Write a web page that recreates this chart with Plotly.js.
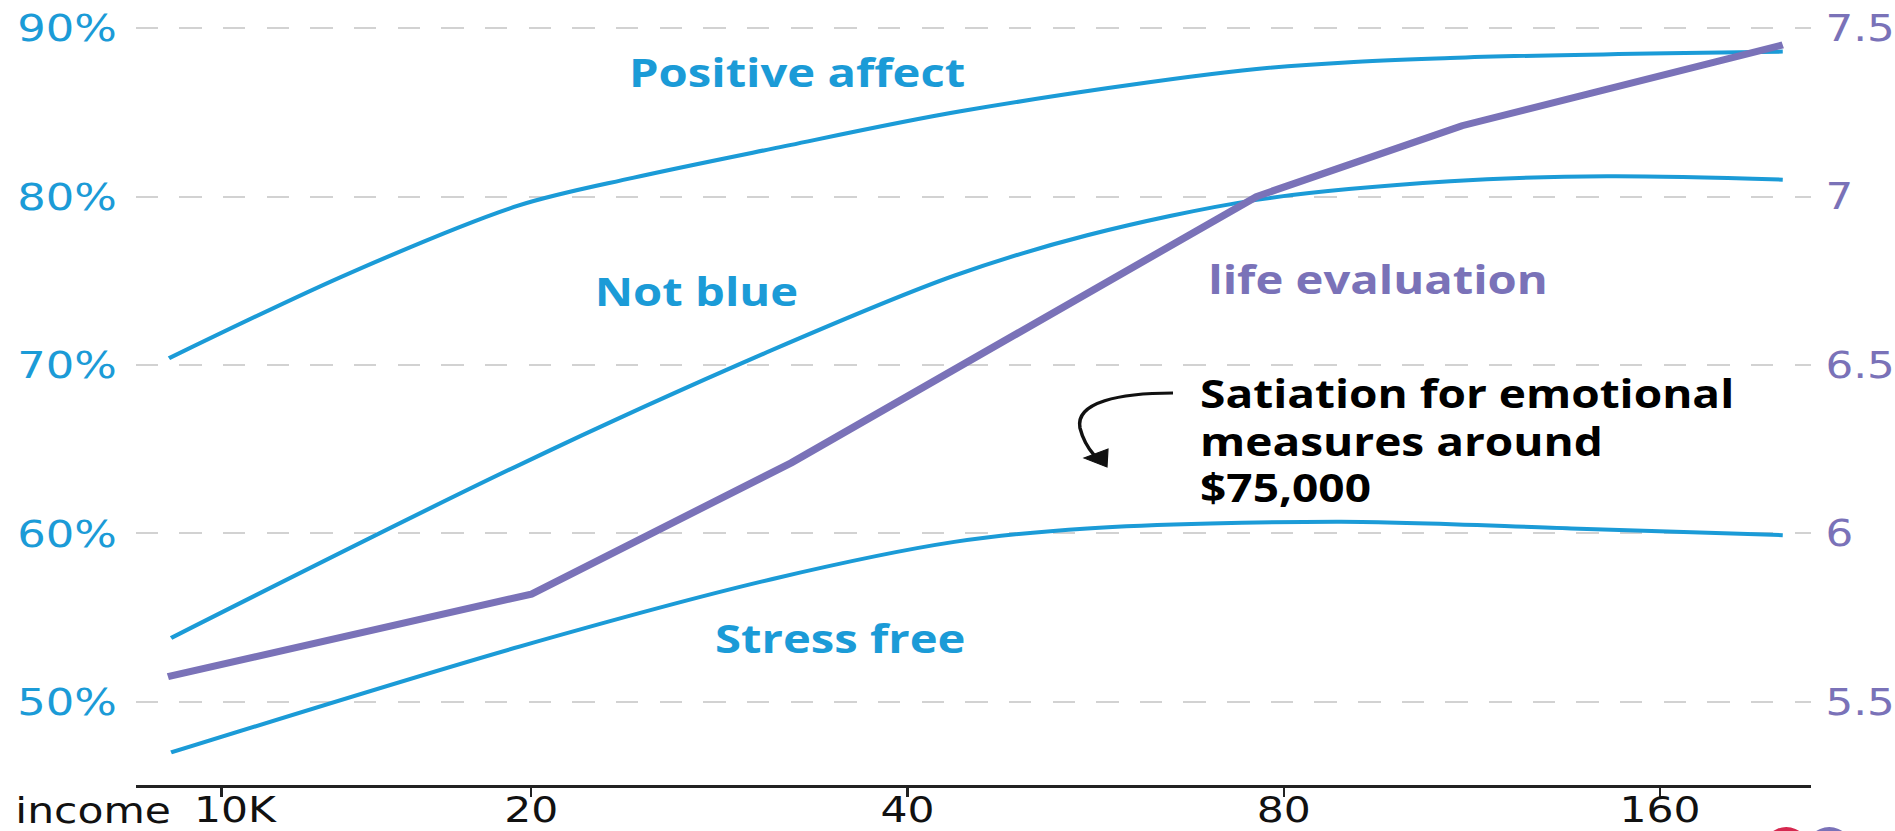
<!DOCTYPE html>
<html><head><meta charset="utf-8">
<script src="https://cdn.plot.ly/plotly-3.0.1.min.js"></script>
<style>
html,body{margin:0;padding:0;background:#fff;overflow:hidden;width:1895px;height:831px}
#wrap{width:1606px;height:831px;transform:scaleX(1.17995);transform-origin:0 0}
</style>
</head><body>
<div id="wrap"><div id="chart" style="width:1606px;height:831px"></div></div>
<script>
// ---- data (income in $ thousands, log scale) ----
const incomePositive = [10.26, 14.31, 19.55, 24.16, 31.2, 44.1, 76.1, 108.7, 200.6];
const positiveAffect = [70.4, 75.45, 79.47, 81.12, 82.84, 85.06, 87.57, 88.22, 88.6];

const incomeNotBlue = [10.3, 19.6, 31.2, 43.6, 55.7, 76.1, 108.7, 145.1, 200.6];
const notBlue = [53.8, 64.1, 70.9, 75.3, 77.7, 79.8, 80.9, 81.2, 81.0];

const incomeStress = [10.3, 19.6, 31.2, 43.6, 55.7, 88.9, 135.8, 200.6];
const stressFree = [47.0, 53.3, 57.3, 59.5, 60.3, 60.7, 60.3, 59.9];

const incomeLife = [10.24, 20.0, 32.3, 76.1, 111.1, 200.6];
const lifeEvaluation = [5.575, 5.82, 6.21, 7.0, 7.21, 7.45];

const xTickVals = [11.3, 20, 40, 80, 160];
const xTickText = ['\u00a0\u00a010K', '20', '40', '80', '160'];
const yLeftTicks = [50, 60, 70, 80, 90];
const yLeftText = ['50%', '60%', '70%', '80%', '90%'];
const yRightTicks = [5.5, 6, 6.5, 7, 7.5];
const yRightText = ['5.5', '6', '6.5', '7', '7.5'];

// ---- styles ----
const BLUE = '#1b9bd7';
const PURPLE = '#7a72b8';
const TICKFONT = 'DejaVu Sans';
const LABELFONT = 'Open Sans';

// pixel (in final 1895x831 picture) -> paper helpers
const PL = 136, PR = 1811, PT = 10, PB = 785;
const px = v => (v - PL) / (PR - PL);
const py = v => (PB - v) / (PB - PT);

const lineTrace = (x, y, name, extra) => Object.assign({
  x: x, y: y, name: name, type: 'scatter', mode: 'lines', hoverinfo: 'skip',
  line: {color: BLUE, width: 4, shape: 'spline', smoothing: 0.9}
}, extra || {});

const traces = [
  lineTrace(incomePositive, positiveAffect, 'Positive affect'),
  lineTrace(incomeNotBlue, notBlue, 'Not blue'),
  lineTrace(incomeStress, stressFree, 'Stress free'),
  lineTrace(incomeLife, lifeEvaluation, 'life evaluation',
    {yaxis: 'y2', line: {color: PURPLE, width: 7, shape: 'linear'}})
];

const lab = (text, x, y, color, anchor, size) => ({
  text: text, xref: 'paper', yref: 'paper', x: px(x), y: py(y),
  xanchor: anchor || 'center', yanchor: 'middle', showarrow: false,
  font: {family: LABELFONT, size: size || 40, color: color, weight: 700}
});

const annotations = [
  lab('Positive affect', 797, 72, BLUE),
  lab('Not blue', 696, 290, BLUE),
  lab('Stress free', 840, 637, BLUE),
  lab('life evaluation', 1378, 278, PURPLE),
  lab('Satiation for emotional', 1198, 393, '#000', 'left', 39),
  lab('measures around', 1198, 440, '#000', 'left', 39),
  lab('$75,000', 1198, 486, '#000', 'left', 39),
  {text: 'income', xref: 'paper', yref: 'paper', x: px(13), y: py(811),
   xanchor: 'left', yanchor: 'middle', showarrow: false,
   font: {family: TICKFONT, size: 36, color: '#111'}}
];

const P = (a, b) => px(a).toFixed(5) + ',' + py(b).toFixed(5);
const shapes = [
  {type: 'path', xref: 'paper', yref: 'paper', layer: 'above',
   path: 'M' + P(1173, 393) + ' C' + P(1120, 393) + ' ' + P(1075, 402) + ' ' + P(1080, 428) +
         ' C' + P(1083, 440) + ' ' + P(1088, 448) + ' ' + P(1094, 455),
   line: {color: '#111', width: 3}},
  {type: 'path', xref: 'paper', yref: 'paper', layer: 'above',
   path: 'M' + P(1084, 458) + ' L' + P(1108, 449) + ' L' + P(1107, 467) + ' Z',
   fillcolor: '#111', line: {color: '#111', width: 1}},
  {type: 'circle', xref: 'paper', yref: 'paper', x0: px(1762), x1: px(1810), y0: py(827), y1: py(877),
   fillcolor: '#d6284f', line: {width: 0}},
  {type: 'circle', xref: 'paper', yref: 'paper', x0: px(1805), x1: px(1853), y0: py(827), y1: py(877),
   fillcolor: PURPLE, line: {width: 0}}
];

const layout = {
  width: 1606, height: 831, autosize: false,
  paper_bgcolor: '#fff', plot_bgcolor: '#fff',
  showlegend: false,
  margin: {l: PL / 1.17995, r: (1895 - PR) / 1.17995, t: PT, b: 831 - PB, pad: 0},
  xaxis: {
    type: 'log', range: [Math.log10(9.65), Math.log10(211.4)],
    tickmode: 'array', tickvals: xTickVals, ticktext: xTickText,
    showline: true, linecolor: '#222', linewidth: 2.5,
    ticks: 'outside', ticklen: 9, tickwidth: 2, tickcolor: '#222',
    showgrid: false, zeroline: false, ticklabelstandoff: -18,
    tickfont: {family: TICKFONT, size: 36, color: '#111'}
  },
  yaxis: {
    range: [45.07, 91.07], tickmode: 'array', tickvals: yLeftTicks, ticktext: yLeftText,
    showgrid: true, gridcolor: '#d2d2d2', gridwidth: 2, griddash: '19px,18px',
    showline: false, zeroline: false, ticks: '',
    tickfont: {family: TICKFONT, size: 38, color: BLUE}, ticklabelstandoff: 15
  },
  yaxis2: {
    overlaying: 'y', side: 'right', range: [5.2537, 7.5534],
    tickmode: 'array', tickvals: yRightTicks, ticktext: yRightText,
    showgrid: false, zeroline: false, showline: false, ticks: '',
    tickfont: {family: TICKFONT, size: 37, color: PURPLE}, ticklabelstandoff: 11
  },
  annotations: annotations,
  shapes: shapes
};

Plotly.newPlot('chart', traces, layout, {staticPlot: true, displayModeBar: false});
</script>
</body></html>
